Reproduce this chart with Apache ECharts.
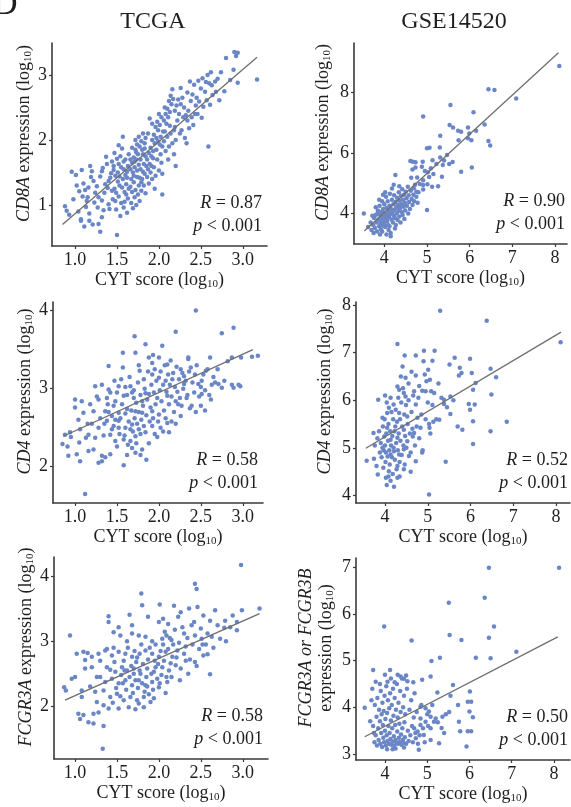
<!DOCTYPE html>
<html><head><meta charset="utf-8">
<script src="https://cdn.jsdelivr.net/npm/echarts@6/dist/echarts.min.js"></script>
<style>html,body{margin:0;padding:0;background:#fff}#c{width:571px;height:807px}</style>
</head><body><div id="c"></div>
<script>
// ---------- text ----------
const columnTitles = ['TCGA', 'GSE14520'];
const panelLabel = 'D';
const xAxisName = 'CYT score (log{s|10})';
const yAxisNames = [
  '{i|CD8A} expression (log{s|10})',
  '{i|CD8A} expression (log{s|10})',
  '{i|CD4} expression (log{s|10})',
  '{i|CD4} expression (log{s|10})',
  '{i|FCGR3A} expression (log{s|10})',
  '{i|FCGR3A or FCGR3B}\nexpression (log{s|10})'
];
const rValues = ['0.87', '0.90', '0.58', '0.52', '0.58', '0.50'];
const pValues = ['< 0.001', '< 0.001', '< 0.001', '< 0.001', '< 0.001', '< 0.001'];

// ---------- axis ranges ----------
const xRanges = [[0.725, 3.289], [3.29, 8.28], [0.737, 3.241], [3.32, 8.33], [0.749, 3.301], [3.314, 8.379]];
const yRanges = [[0.38, 3.5], [2.99, 9.63], [1.535, 4.11], [3.841, 8.063], [1.18, 4.305], [2.872, 7.199]];
const xSplits = [5, 5, 5, 5, 5, 5];
const ySplits = [3, 3, 3, 4, 3, 4];

// ---------- regression lines (endpoints) ----------
const fitTcgaCD8A = [[0.85, 0.71], [3.17, 3.28]];
const fitGseCD8A = [[3.53, 3.42], [8.08, 9.31]];
const fitTcgaCD4 = [[0.86, 2.39], [3.12, 3.50]];
const fitGseCD4 = [[3.55, 4.99], [8.12, 7.43]];
const fitTcgaFCGR = [[0.88, 2.09], [3.20, 3.43]];
const fitGseFCGR = [[3.52, 3.37], [8.09, 5.51]];

// ---------- scatter data [CYT score, expression] ----------
const tcgaCD8A = [
[0.88,0.99],[0.90,0.92],[0.93,0.86],[0.96,1.52],[1.01,1.47],[1.04,0.91],[1.05,1.22],[1.07,0.77],[1.08,1.55],[0.98,1.10],[1.02,1.31],
[1.10,1.34],[1.12,1.24],[1.15,1.13],[1.09,1.14],[1.13,0.98],[1.17,0.88],[1.20,1.53],[1.18,1.61],[1.22,1.38],[1.17,0.77],[1.21,0.71],[1.11,0.68],[1.07,0.79],[1.14,1.07],[1.24,1.20],[1.19,1.44],[1.23,1.05],[1.16,1.28],
[1.28,0.72],[1.32,0.82],[1.30,0.60],[1.34,0.93],[1.36,1.33],[1.40,1.38],[1.42,1.43],[1.32,1.53],[1.38,1.64],[1.44,1.68],[1.28,1.13],[1.32,1.08],[1.46,1.55],[1.44,1.23],[1.40,1.02],[1.35,1.20],[1.30,1.45],[1.43,1.50],[1.37,1.75],[1.26,1.30],[1.45,1.10],[1.33,1.58],[1.41,0.95],[1.27,0.97],[1.39,1.27],
[1.50,0.55],[1.57,2.06],[1.47,1.81],[1.50,1.72],[1.52,1.64],[1.55,1.59],[1.58,1.56],[1.60,1.47],[1.62,1.43],[1.48,1.46],[1.51,1.37],[1.53,1.31],[1.56,1.28],[1.59,1.21],[1.61,1.17],[1.63,1.11],[1.47,1.26],[1.52,1.14],[1.55,1.04],[1.58,0.97],[1.62,0.89],[1.49,0.94],[1.54,0.84],[1.60,1.71],[1.63,1.61],[1.64,1.79],[1.46,1.61],[1.57,1.41],[1.51,1.51],[1.54,1.76],[1.61,1.33],[1.64,1.26],[1.48,1.07],[1.59,1.06],[1.56,1.88],[1.52,1.93],[1.49,1.20],[1.53,1.45],[1.58,1.68],[1.62,1.52],
[1.66,1.56],[1.68,1.66],[1.70,1.74],[1.72,1.86],[1.74,1.94],[1.76,2.06],[1.67,1.41],[1.69,1.51],[1.71,1.59],[1.73,1.71],[1.75,1.79],[1.77,1.91],[1.79,1.99],[1.81,2.11],[1.66,1.29],[1.70,1.36],[1.74,1.44],[1.78,1.56],[1.82,1.64],[1.84,1.76],[1.68,1.21],[1.72,1.24],[1.76,1.31],[1.80,1.41],[1.83,1.49],[1.67,1.04],[1.71,1.13],[1.75,1.17],[1.79,1.23],[1.82,1.31],[1.69,0.96],[1.73,1.01],[1.77,1.07],[1.84,1.19],[1.80,1.86],[1.83,1.96],[1.78,1.71],[1.85,1.61],[1.72,2.01],[1.68,1.89],[1.76,1.63],[1.81,1.79],[1.74,1.54],[1.70,1.46],[1.79,1.36],[1.84,2.04],[1.66,1.71],[1.77,1.43],[1.73,1.82],[1.81,1.52],[1.71,1.68],[1.83,1.88],
[1.86,1.71],[1.88,1.81],[1.90,1.89],[1.92,2.01],[1.94,2.09],[1.96,2.21],[1.98,2.29],[2.00,2.41],[1.87,1.56],[1.89,1.64],[1.91,1.76],[1.93,1.84],[1.95,1.96],[1.97,2.04],[1.99,2.16],[2.01,2.24],[2.03,2.36],[1.86,1.44],[1.90,1.51],[1.94,1.59],[1.98,1.71],[2.02,1.79],[2.04,1.91],[1.88,1.34],[1.92,1.41],[1.96,1.46],[2.00,1.54],[2.03,1.66],[1.95,1.26],[2.04,1.17],[1.87,2.11],[1.92,2.26],[2.02,2.06],[2.05,2.14],[1.99,1.99],[1.93,1.73],[2.04,1.49],[1.89,2.34],[1.97,1.86],[2.01,1.94],[1.91,1.61],
[2.06,2.31],[2.08,2.41],[2.10,2.49],[2.12,2.61],[2.14,2.69],[2.07,2.14],[2.09,2.26],[2.11,2.36],[2.13,2.44],[2.15,2.56],[2.17,2.64],[2.19,2.21],[2.06,1.99],[2.10,2.06],[2.14,2.11],[2.18,2.16],[2.22,2.31],[2.08,1.84],[2.12,1.91],[2.16,1.96],[2.20,2.01],[2.24,2.41],[2.11,1.71],[2.18,1.79],[2.21,2.54],[2.23,2.63],[2.16,2.79],[2.25,2.11],[2.20,1.61],[2.13,2.23],[2.07,2.51],[2.19,2.46],
[2.26,2.81],[2.28,2.66],[2.30,2.51],[2.32,2.39],[2.34,2.31],[2.36,2.19],[2.38,2.61],[2.40,2.71],[2.42,2.86],[2.44,2.54],[2.27,2.16],[2.31,2.04],[2.35,2.46],[2.39,2.36],[2.43,2.41],[2.29,2.36],[2.37,2.91],[2.45,2.66],[2.33,1.96],[2.41,2.24],[2.26,2.56],[2.34,2.74],
[2.47,2.92],[2.50,2.80],[2.52,2.96],[2.55,2.75],[2.58,3.01],[2.60,2.88],[2.62,3.05],[2.48,2.60],[2.53,2.52],[2.57,2.62],[2.61,2.55],[2.64,2.70],[2.59,1.91],[2.46,2.41],[2.63,2.85],[2.51,2.35],[2.56,2.90],
[2.67,2.91],[2.74,3.05],[2.78,2.76],[2.80,3.27],[2.70,2.95],[2.72,2.62],[2.89,3.09],[2.90,3.36],[2.94,3.35],[2.92,3.30],[2.94,2.89],[3.17,2.94],[2.68,2.75],[2.85,2.93]
];

const gseCD8A = [
[8.10,8.87],[6.44,8.10],[6.58,8.08],[7.09,7.80],[5.55,7.58],[4.91,7.20],[6.09,7.34],[6.35,6.94],[5.53,6.92],[5.61,6.84],[5.73,6.73],[5.80,6.70],[5.96,6.84],[5.99,6.64],[5.96,6.48],[6.04,6.42],[5.31,6.57],[5.74,6.42],[6.44,6.39],[6.48,6.24],[6.15,6.73],[5.00,6.15],[5.06,6.17],[5.30,6.18],[5.47,5.93],[5.31,5.85],[5.22,5.63],[5.37,5.60],[5.52,5.63],[4.61,5.73],[4.67,5.71],[4.73,5.69],[4.90,5.71],[5.13,5.76],[5.09,5.49],[4.88,5.54],[4.73,5.52],[4.66,5.45],[6.05,5.52],[5.80,5.38],[4.26,5.27],[5.02,5.36],[5.35,5.21],[4.63,5.18],[4.77,5.19],[4.91,5.10],[4.83,4.97],[4.91,4.94],[5.01,4.96],[5.12,4.88],[5.26,4.90],[4.69,4.83],[4.75,4.72],[4.91,4.79],[5.00,4.11],[3.52,4.00],
[5.60,5.70],[5.15,5.30],[4.95,5.40],[5.40,5.75],[5.05,5.20],
[3.62,3.55],[3.68,3.70],[3.70,3.45],[3.74,3.62],[3.76,3.85],[3.78,3.52],[3.80,3.95],[3.82,3.70],[3.83,3.40],[3.85,4.10],[3.86,3.80],[3.88,3.58],[3.89,4.25],[3.90,3.95],[3.91,3.68],[3.92,3.48],[3.93,4.05],[3.94,3.82],[3.95,4.40],[3.96,3.60],[3.97,4.15],[3.98,3.90],[3.99,3.72],[4.00,4.30],[4.01,4.02],[4.02,3.55],[4.03,3.85],[4.04,4.55],[4.05,4.18],[4.06,3.95],[4.07,3.75],[4.08,4.40],[4.09,3.62],[4.10,4.08],[4.11,3.88],[4.12,4.25],[4.13,4.65],[4.14,3.98],[4.15,3.35],[4.16,4.15],[4.17,3.80],[4.18,4.45],[4.19,4.02],[4.20,3.70],[4.21,4.30],[4.22,3.92],[4.23,4.60],[4.24,4.12],[4.25,3.85],[4.26,4.38],[4.27,3.62],[4.28,4.20],[4.29,4.00],[4.30,4.52],[4.31,3.78],[4.32,4.28],[4.33,4.08],[4.34,4.70],[4.35,3.90],[4.36,4.42],[4.37,4.18],[4.38,3.70],[4.39,4.58],[4.40,4.30],[4.41,4.05],[4.42,4.80],[4.43,3.95],[4.44,4.45],[4.45,4.22],[4.46,4.62],[4.47,3.82],[4.48,4.35],[4.49,4.10],[4.50,4.72],[4.52,4.50],[4.53,4.25],[4.55,4.88],[4.56,4.00],[4.57,4.60],[4.58,4.38],[4.60,4.15],[4.62,4.75],[4.64,4.48],[4.66,4.28],[4.68,4.62],[4.70,4.40],[4.72,4.95],[4.75,4.55],[4.78,4.35],[4.80,4.70],[3.72,3.92],[3.80,4.20],[3.88,4.45],[3.95,3.40],[4.02,4.70],[4.10,3.45],[4.18,4.82],[4.25,3.50],[3.75,3.35],[4.05,3.30],[4.00,3.65],[4.12,3.58],[3.84,4.00],[3.97,4.62],[4.22,4.95],[4.35,4.90],[4.15,3.25],[3.90,3.30]
];

const tcgaCD4 = [
[2.44,4.00],[2.89,3.78],[2.75,3.71],[2.20,3.73],[1.71,3.67],[1.84,3.57],[2.04,3.55],[1.57,3.46],[1.72,3.46],[1.88,3.40],[2.35,3.38],[2.61,3.40],[3.11,3.41],[2.87,3.40],[1.40,3.29],[1.57,3.27],[1.77,3.23],[1.92,3.33],[2.10,3.31],[2.26,3.25],[2.38,3.27],[2.56,3.23],[1.24,3.03],[1.32,3.05],[1.40,2.99],[1.52,3.03],[1.66,3.03],[1.82,3.12],[1.92,3.18],[2.00,3.14],[2.08,3.10],[2.16,3.12],[2.30,3.06],[2.47,3.06],[2.63,3.05],[2.71,3.06],[2.87,3.05],[1.00,2.86],[1.08,2.84],[1.18,2.80],[1.28,2.86],[1.38,2.88],[1.48,2.84],[1.58,2.91],[1.70,2.88],[1.80,2.84],[1.88,2.93],[1.98,2.88],[2.10,2.91],[2.20,2.84],[2.27,2.78],[2.39,2.78],[2.51,2.93],[1.00,2.76],[1.10,2.69],[1.22,2.71],[1.36,2.71],[1.44,2.65],[1.52,2.69],[1.62,2.74],[1.72,2.71],[1.80,2.69],[1.92,2.71],[2.00,2.67],[2.10,2.56],[0.88,2.41],[0.94,2.44],[1.06,2.48],[1.16,2.41],[1.28,2.50],[1.38,2.59],[1.46,2.52],[1.52,2.59],[1.60,2.50],[1.68,2.54],[1.76,2.48],[1.84,2.44],[1.92,2.52],[2.02,2.50],[2.12,2.44],[0.85,2.29],[0.91,2.26],[1.05,2.31],[1.13,2.37],[1.24,2.37],[1.42,2.41],[1.48,2.33],[1.58,2.35],[1.66,2.33],[1.72,2.39],[1.02,2.16],[1.16,2.20],[1.22,2.22],[0.92,2.14],[1.32,2.14],[1.36,2.12],[1.42,2.16],[1.28,2.05],[1.32,2.07],[1.68,2.24],[1.72,2.18],[1.85,2.09],[1.58,2.02],[1.06,2.07],[1.12,1.65],
[2.97,3.03],[2.67,3.08],[2.75,3.01],[2.43,3.18],[2.30,3.16],[2.51,3.10],[2.89,3.01],[2.23,2.80],[2.33,2.88],
[1.46,2.78],[1.50,2.95],[1.54,2.62],[1.56,2.80],[1.60,2.68],[1.62,2.92],[1.64,2.58],[1.65,3.15],[1.67,2.72],[1.69,2.45],[1.70,2.98],[1.71,2.62],[1.73,2.82],[1.74,2.55],[1.75,3.08],[1.76,2.70],[1.78,2.92],[1.79,2.60],[1.81,2.78],[1.82,2.52],[1.83,3.00],[1.85,2.66],[1.86,2.86],[1.87,3.22],[1.89,2.58],[1.90,2.76],[1.91,3.05],[1.93,2.62],[1.94,2.95],[1.95,3.25],[1.96,2.80],[1.97,3.10],[1.99,2.58],[2.01,2.98],[2.02,3.22],[2.03,2.84],[2.05,3.05],[2.06,2.72],[2.07,3.30],[2.09,2.96],[2.11,3.18],[2.12,2.80],[2.13,3.05],[2.14,3.36],[2.15,2.90],[2.17,3.20],[2.18,2.70],[2.19,3.02],[2.21,3.28],[2.22,2.96],[2.24,3.12],[2.25,2.88],[2.28,3.20],[2.29,3.00],[2.32,3.10],[2.34,2.92],[2.36,3.22],[2.37,2.75],[2.40,3.08],[2.42,2.95],[2.45,3.30],[2.48,2.90],[2.50,2.78],[2.53,3.18],[2.55,2.98],[2.58,3.25],[2.60,2.92],[2.65,3.15],[2.70,3.25],[2.78,3.10],[2.82,3.35],[2.95,3.05],[3.18,3.42],[2.98,3.40],[2.55,2.72],[2.62,2.86],[1.20,2.55],[1.26,2.90],[1.30,2.62],[1.34,2.40],[1.39,2.80],[1.42,2.95],[1.44,2.48],[1.48,2.60],[1.53,2.42],[1.55,3.12],[1.59,2.40],[1.63,2.28],[1.66,2.48],[1.73,2.30],[1.78,2.42],[1.80,2.22],[1.88,2.30],[1.95,2.42],[1.98,2.38],[2.05,2.45],[2.15,2.58],[1.62,2.15],[1.78,2.15],[1.50,2.26],[1.15,2.55],[1.04,2.60],[0.95,2.38],[1.35,2.55],[1.47,3.10],[1.60,3.02],[1.76,3.30],[1.84,2.94],[1.93,3.43],[2.00,3.40],[2.08,2.62],[2.20,2.55],[2.26,2.65],[2.44,2.70],[2.50,3.02],[2.35,3.40],[1.68,2.95],[1.52,2.50],[1.40,2.70]
];

const gseCD4 = [
[5.29,7.88],[6.38,7.67],[8.11,7.22],[4.29,7.18],[4.46,6.94],[4.72,6.94],[4.91,7.04],[5.16,7.04],[5.11,6.83],[4.90,6.82],[5.63,6.89],[5.99,6.87],[4.41,6.71],[4.37,6.50],[4.48,6.47],[4.72,6.52],[4.93,6.54],[5.01,6.64],[5.05,6.43],[5.51,6.75],[5.75,6.68],[5.79,6.57],[5.73,6.52],[6.03,6.57],[6.47,6.66],[6.60,6.48],[6.12,6.36],[6.06,6.22],[6.49,6.12],[4.29,6.29],[4.33,6.22],[4.13,6.05],[4.44,6.15],[3.84,6.01],[4.68,6.19],[4.87,6.20],[4.95,6.19],[5.08,6.19],[5.32,6.05],[5.38,6.01],[5.53,6.08],[5.38,5.92],[5.11,5.90],[4.72,5.91],[4.48,6.08],[5.96,5.92],[6.10,5.91],[5.99,5.80],[5.53,5.71],[4.09,5.84],[4.20,5.91],[4.05,5.73],[3.94,5.63],[4.33,5.73],[4.52,5.66],[4.76,5.63],[5.03,5.50],[5.13,5.55],[5.27,5.59],[6.85,5.55],[6.06,5.56],[3.73,5.31],[3.86,5.35],[4.05,5.42],[4.24,5.45],[4.44,5.38],[4.68,5.31],[4.83,5.42],[5.04,5.42],[5.81,5.38],[6.47,5.35],[3.98,5.24],[4.13,5.17],[4.29,5.21],[4.52,5.14],[4.65,5.24],[6.06,5.08],[3.57,4.73],[3.74,4.77],[3.94,5.00],[4.02,4.90],[4.13,4.86],[4.21,4.93],[4.33,4.86],[4.44,4.97],[4.56,4.83],[4.72,4.72],[4.87,4.90],[5.42,4.71],[3.80,4.62],[3.96,4.58],[4.09,4.51],[4.29,4.62],[4.44,4.55],[3.83,4.44],[4.02,4.37],[4.13,4.31],[4.04,4.22],[4.29,4.37],[5.03,4.02],
[3.90,5.10],[3.92,4.80],[3.95,5.45],[3.97,4.95],[3.99,5.60],[4.00,5.05],[4.01,4.70],[4.03,5.30],[4.04,5.95],[4.06,4.82],[4.07,5.15],[4.08,5.50],[4.10,4.95],[4.11,4.65],[4.12,5.35],[4.14,5.05],[4.15,5.75],[4.16,4.80],[4.17,5.25],[4.18,4.45],[4.19,5.60],[4.20,5.00],[4.22,5.35],[4.23,4.75],[4.25,5.80],[4.26,5.10],[4.27,4.55],[4.28,5.55],[4.30,4.95],[4.31,6.05],[4.32,5.30],[4.34,4.70],[4.35,5.60],[4.36,5.15],[4.38,5.95],[4.39,4.85],[4.40,5.45],[4.42,6.25],[4.43,5.05],[4.45,5.70],[4.46,4.65],[4.47,5.25],[4.49,5.90],[4.50,5.00],[4.53,5.50],[4.55,6.00],[4.58,5.30],[4.60,4.90],[4.62,5.75],[4.64,5.40],[4.66,6.10],[4.70,5.05],[4.74,5.45],[4.78,6.05],[4.80,5.20],[4.85,5.70],[4.88,4.95],[4.95,5.60],[5.00,5.95],[5.06,5.30],[5.15,6.15],[5.20,5.60],[5.25,6.35],[5.45,5.85],[5.60,6.00],[5.70,5.45],[4.97,6.40],[4.55,6.35],[4.60,4.50],[4.34,4.40],[4.21,4.18],[3.88,4.90],[3.76,5.05],[3.82,5.20],[4.08,4.40],[4.00,6.10],[4.62,6.60],[4.80,6.30]
];

const tcgaFCGR3A = [
[2.98,4.18],[2.43,3.89],[2.45,3.81],[1.79,3.74],[1.65,3.41],[2.01,3.57],[1.80,3.56],[1.40,3.39],[1.40,3.30],[1.87,3.38],[2.00,3.30],[2.26,3.45],[2.36,3.51],[2.46,3.53],[2.53,3.40],[2.61,3.32],[2.67,3.48],[2.79,3.32],[2.99,3.48],[3.20,3.51],[2.93,3.30],[2.78,3.21],[2.93,3.17],[2.39,3.25],[2.23,3.38],[2.11,3.27],[0.94,3.09],[1.46,3.14],[1.54,3.09],[1.68,3.12],[1.76,3.09],[1.84,3.07],[1.92,3.00],[2.04,3.04],[2.09,3.09],[2.15,3.02],[2.30,3.12],[2.43,3.09],[2.51,3.04],[2.63,3.07],[2.73,3.04],[1.02,2.81],[1.10,2.84],[1.12,2.71],[1.20,2.76],[1.28,2.81],[1.36,2.86],[1.44,2.78],[1.52,2.84],[1.60,2.81],[1.68,2.76],[1.77,2.81],[1.84,2.86],[1.92,2.81],[2.00,2.76],[2.08,2.84],[2.16,2.76],[2.22,2.86],[2.30,2.81],[2.43,2.68],[2.53,2.78],[2.61,2.49],[2.20,2.63],[1.12,2.58],[1.20,2.60],[1.38,2.60],[1.48,2.53],[1.56,2.60],[1.62,2.55],[1.70,2.58],[1.78,2.50],[1.86,2.58],[1.94,2.53],[2.04,2.60],[2.12,2.55],[0.96,2.42],[1.00,2.45],[1.30,2.45],[1.36,2.37],[1.44,2.42],[1.52,2.35],[1.60,2.40],[1.68,2.32],[1.76,2.40],[1.84,2.32],[1.92,2.37],[2.00,2.29],[2.10,2.37],[0.87,2.29],[0.89,2.24],[1.08,2.24],[1.08,2.14],[1.24,2.22],[1.34,2.24],[1.42,2.14],[1.50,2.19],[1.58,2.09],[1.66,2.14],[1.74,2.09],[1.82,2.14],[1.90,2.06],[1.26,2.06],[1.34,2.01],[1.40,1.96],[1.52,1.96],[1.64,1.98],[1.76,2.04],[1.04,1.88],[1.10,1.86],[1.22,1.88],[1.06,1.80],[1.16,1.75],[1.22,1.73],[1.34,1.69],[1.33,1.34],
[1.55,2.48],[1.58,2.70],[1.61,2.25],[1.63,2.90],[1.65,2.45],[1.67,2.62],[1.69,2.20],[1.71,2.85],[1.72,2.40],[1.73,2.68],[1.75,2.28],[1.77,2.55],[1.79,2.95],[1.80,2.35],[1.81,2.65],[1.83,2.22],[1.85,2.45],[1.87,2.72],[1.88,2.18],[1.89,2.90],[1.91,2.50],[1.93,2.25],[1.95,2.70],[1.96,2.95],[1.98,2.42],[1.99,2.65],[2.02,2.85],[2.03,2.48],[2.05,2.95],[2.06,2.70],[2.07,3.15],[2.09,2.45],[2.11,2.88],[2.13,3.05],[2.14,2.66],[2.17,2.95],[2.19,3.18],[2.21,2.75],[2.24,2.98],[2.26,2.58],[2.28,3.22],[2.32,2.92],[2.34,3.05],[2.37,2.72],[2.40,2.95],[2.42,3.30],[2.48,2.88],[2.50,3.20],[2.56,2.95],[2.58,3.12],[2.65,2.90],[2.70,3.25],[2.85,3.22],[2.88,3.40],[2.58,2.80],[2.35,2.50],[2.25,2.40],[1.47,2.68],[1.49,2.28],[1.46,2.90],[1.54,2.15],[1.59,2.55],[1.62,3.00],[1.57,2.35],[1.70,2.50],[1.74,2.75],[1.86,2.30],[1.94,2.12],[2.08,2.20],[1.42,2.56],[1.38,2.88],[1.30,2.70],[1.26,2.45],[1.18,2.30],[1.15,2.82],[1.28,1.90],[1.45,2.05],[1.72,1.95],[1.82,1.98],[1.96,2.60],[2.01,2.35],[2.15,2.45],[2.32,2.70],[2.45,2.62],[2.52,2.95],[2.80,3.00],[1.52,3.22],[1.68,3.25],[2.18,3.55],[2.05,3.35]
];

const gseFCGR = [
[6.46,6.99],[8.12,6.99],[6.36,6.35],[5.51,6.24],[3.98,5.73],[6.58,5.73],[5.53,5.55],[6.46,5.49],[4.63,5.43],[5.81,5.44],[7.11,5.19],[5.30,5.06],[5.10,4.99],[6.15,5.06],[6.50,5.05],[3.72,4.80],[4.12,4.80],[4.88,4.59],[5.08,4.66],[5.61,4.48],[6.01,4.34],[5.24,4.32],[5.55,4.25],[5.73,4.05],[5.96,4.12],[6.04,4.12],[6.00,3.91],[6.08,3.79],[5.75,3.69],[5.78,3.49],[5.96,3.49],[6.04,3.49],[5.93,3.16],[5.28,3.23],[4.80,3.09],[3.52,3.99],
[4.45,4.61],[4.53,4.56],[4.67,4.54],[4.37,4.66],[4.23,4.54],[4.06,4.55],
[4.84,4.01],[4.96,3.98],[5.04,3.91],[5.08,3.80],[5.20,3.76],[5.36,3.80],[5.44,3.85],[5.16,3.69],[4.96,3.69],[4.84,3.62],[5.08,3.55],[5.34,3.56],[4.92,3.41],[5.08,3.30],[4.77,3.48],[4.73,3.34],[4.69,3.55],[4.84,3.76],
[3.72,3.60],[3.75,3.25],[3.76,4.05],[3.78,3.40],[3.80,3.80],[3.81,3.18],[3.82,4.20],[3.84,3.55],[3.85,3.30],[3.86,3.95],[3.88,3.70],[3.89,3.22],[3.90,4.35],[3.91,3.45],[3.92,3.85],[3.93,3.15],[3.94,4.10],[3.95,3.62],[3.96,3.35],[3.97,3.92],[3.98,3.25],[3.99,4.25],[4.00,3.50],[4.01,3.75],[4.02,3.18],[4.03,4.45],[4.04,3.40],[4.05,3.88],[4.06,3.28],[4.07,4.15],[4.08,3.60],[4.09,3.22],[4.10,3.98],[4.11,3.45],[4.12,4.30],[4.13,3.32],[4.14,3.72],[4.15,3.20],[4.16,4.05],[4.17,3.55],[4.18,3.27],[4.19,4.40],[4.20,3.82],[4.21,3.38],[4.22,3.18],[4.23,4.20],[4.24,3.62],[4.25,3.30],[4.26,3.95],[4.27,3.24],[4.28,4.50],[4.29,3.48],[4.30,3.78],[4.31,3.22],[4.32,4.10],[4.33,3.35],[4.34,3.65],[4.35,3.26],[4.36,4.35],[4.37,3.90],[4.38,3.42],[4.39,3.20],[4.40,4.62],[4.41,3.55],[4.42,3.30],[4.43,4.00],[4.44,3.24],[4.45,4.25],[4.46,3.68],[4.47,3.36],[4.48,3.85],[4.50,3.22],[4.52,4.40],[4.54,3.50],[4.56,3.28],[4.58,3.95],[4.60,3.40],[4.62,4.15],[4.64,3.60],[4.66,3.25],[4.68,3.78],[4.70,4.30],[4.72,3.45],[4.75,3.90],[4.78,3.22],[4.82,3.40],[4.86,4.05],[4.90,3.55],[4.94,3.25],[5.00,3.85],[5.02,3.60],[5.12,4.05],[5.25,3.68],[5.40,3.45],[5.52,3.90],[3.70,4.40],[3.78,4.55],[3.88,4.50],[4.00,4.70],[4.14,4.62],[4.30,4.70],[4.50,4.68],[3.65,3.70],[3.68,4.15],[3.74,3.45],[4.05,3.10],[4.25,3.12],[4.45,3.14],[4.18,3.10]
];

const scatterData = [tcgaCD8A, gseCD8A, tcgaCD4, gseCD4, tcgaFCGR3A, gseFCGR];
const fitData = [fitTcgaCD8A, fitGseCD8A, fitTcgaCD4, fitGseCD4, fitTcgaFCGR, fitGseFCGR];

// ---------- layout / style ----------
const FONT = "'Liberation Serif','Times New Roman',serif";
const TXT = '#1e1e1e';
const AX = '#3a3a3a';
const PT = '#6a86c6';
const grids = [
  { left: 52, top: 43, width: 215, height: 203 },
  { left: 354, top: 43, width: 213, height: 201 },
  { left: 53, top: 302, width: 210, height: 201 },
  { left: 356, top: 302, width: 214, height: 201 },
  { left: 54, top: 557, width: 214, height: 202 },
  { left: 356, top: 558, width: 214, height: 202 }
];
const yNameGaps = [15, 21, 15, 21, 15, 20];
const richSub = {
  i: { fontStyle: 'italic', fontFamily: FONT, fontSize: 18, color: TXT, lineHeight: 20 },
  s: { fontFamily: FONT, fontSize: 11, color: TXT, verticalAlign: 'bottom', lineHeight: 11 }
};

const option = {
  animation: false,
  backgroundColor: '#fff',
  grid: grids.map(g => Object.assign({ containLabel: false, outerBoundsMode: 'none' }, g)),
  xAxis: grids.map((g, i) => ({
    type: 'value', gridIndex: i, min: xRanges[i][0], max: xRanges[i][1], splitNumber: xSplits[i],
    name: xAxisName, nameLocation: 'middle', nameGap: 21,
    nameTextStyle: { fontFamily: FONT, fontSize: 18, color: TXT, lineHeight: 20, rich: richSub },
    axisLine: { show: true, onZero: false, lineStyle: { color: AX, width: 1.6 } },
    axisTick: { show: true, length: 3, lineStyle: { color: AX, width: 1.2 } },
    axisLabel: { fontFamily: FONT, fontSize: 18, color: TXT, margin: 5, showMinLabel: false, showMaxLabel: false,
      formatter: v => (i % 2 === 0 ? v.toFixed(1) : String(Math.round(v))) },
    splitLine: { show: false }
  })),
  yAxis: grids.map((g, i) => ({
    type: 'value', gridIndex: i, min: yRanges[i][0], max: yRanges[i][1], splitNumber: ySplits[i],
    name: yAxisNames[i], nameLocation: 'middle', nameGap: yNameGaps[i], nameRotate: 90,
    nameTextStyle: { fontFamily: FONT, fontSize: 18, color: TXT, lineHeight: 20, rich: richSub, padding: [0, 0, 0, 22] },
    axisLine: { show: true, onZero: false, lineStyle: { color: AX, width: 1.6 } },
    axisTick: { show: true, length: 3, lineStyle: { color: AX, width: 1.2 } },
    axisLabel: { fontFamily: FONT, fontSize: 18, color: TXT, margin: 5, showMinLabel: false, showMaxLabel: false },
    splitLine: { show: false }
  })),
  series: [].concat(
    scatterData.map((d, i) => ({
      type: 'scatter', xAxisIndex: i, yAxisIndex: i, data: d, symbolSize: 4.5, silent: true,
      itemStyle: { color: PT, opacity: 1 }
    })),
    fitData.map((d, i) => ({
      type: 'line', xAxisIndex: i, yAxisIndex: i, data: d, symbol: 'none', silent: true,
      lineStyle: { color: '#6e6e6e', width: 1.3 }, z: 3
    }))
  ),
  graphic: []
};

// column titles & panel letter
option.graphic.push({ type: 'text', x: 153, y: 22, style: { text: columnTitles[0], fontFamily: FONT, fontSize: 24, fill: TXT, align: 'center', verticalAlign: 'middle' } });
option.graphic.push({ type: 'text', x: 454, y: 22, style: { text: columnTitles[1], fontFamily: FONT, fontSize: 24, fill: TXT, align: 'center', verticalAlign: 'middle' } });
option.graphic.push({ type: 'text', x: -7, y: -12, style: { text: panelLabel, fontFamily: FONT, fontSize: 34, fill: TXT, align: 'left', verticalAlign: 'top' } });

// R / p annotations
const statRich = { i: { fontStyle: 'italic', fontFamily: FONT, fontSize: 18, fill: TXT } };
grids.forEach((g, i) => {
  const right = g.left + g.width - (i % 2 === 0 ? 5 : 2);
  const bottom = g.top + g.height;
  option.graphic.push({ type: 'text', x: right, y: bottom - 43, style: { text: '{i|R} = ' + rValues[i], rich: statRich, fontFamily: FONT, fontSize: 18, fill: TXT, align: 'right', verticalAlign: 'middle' } });
  option.graphic.push({ type: 'text', x: right, y: bottom - 20, style: { text: '{i|p} ' + pValues[i], rich: statRich, fontFamily: FONT, fontSize: 18, fill: TXT, align: 'right', verticalAlign: 'middle' } });
});

const chart = echarts.init(document.getElementById('c'), null, { renderer: 'canvas' });
chart.setOption(option);
</script>
</body></html>
